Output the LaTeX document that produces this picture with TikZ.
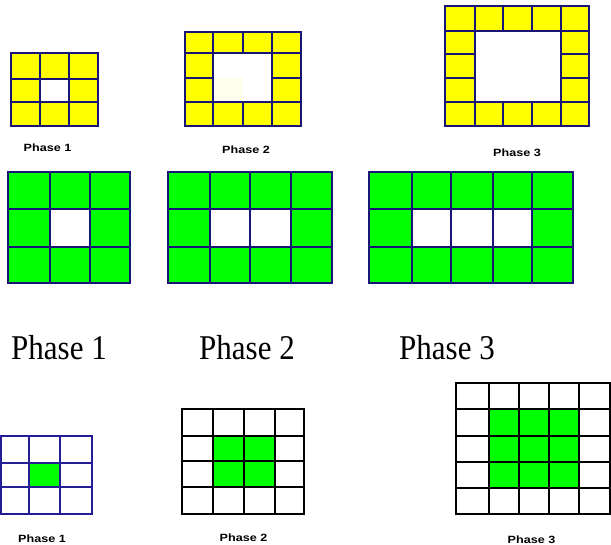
\documentclass[tikz,border=0pt]{standalone}
\usepackage{fontspec}
\setmainfont{Liberation Serif}
\newfontfamily\lblfont{Liberation Sans}
\definecolor{ylw}{RGB}{255,255,0}
\definecolor{grn}{RGB}{0,255,0}
\definecolor{navy}{RGB}{25,20,120}
\definecolor{blu}{RGB}{35,30,150}
\definecolor{pale}{RGB}{255,255,238}
\tikzset{
  topline/.style={draw=navy,line width=1.8pt,line cap=rect},
  midline/.style={draw=navy,line width=2.2pt,line cap=rect},
  botblue/.style={draw=blu,line width=1.5pt,line cap=rect},
  botblack/.style={draw=black,line width=1.5pt,line cap=rect},
  smalllbl/.style={inner sep=0pt,font=\lblfont\bfseries\fontsize{10.5}{10.5}\selectfont,xscale=1.2},
  biglbl/.style={inner sep=0pt,anchor=base west,yscale=1.12,font=\fontsize{31}{31}\selectfont}
}
\begin{document}
\begin{tikzpicture}[x=1pt,y=-1pt]
\useasboundingbox (0,0) rectangle (611,545);
% ---------- top row (yellow rings) ----------
% grid 1
\fill[ylw] (11,53) rectangle (98,126);
\fill[white] (40,79) rectangle (69,102);
\draw[topline] (11,53) rectangle (98,126);
\foreach \x in {40,69} \draw[topline] (\x,53) -- (\x,126);
\foreach \y in {79,102} \draw[topline] (11,\y) -- (98,\y);
% grid 2
\fill[ylw] (185,32) rectangle (301,126);
\fill[white] (213,53) rectangle (272,102);
\fill[pale] (215,78) rectangle (243,102);
\draw[topline] (185,32) rectangle (301,126);
\foreach \x in {213,272} \draw[topline] (\x,32) -- (\x,126);
\draw[topline] (243,32) -- (243,53) (243,102) -- (243,126);
\foreach \y in {53,102} \draw[topline] (185,\y) -- (301,\y);
\draw[topline] (185,78) -- (213,78) (272,78) -- (301,78);
% grid 3
\fill[ylw] (445,6) rectangle (589,126);
\fill[white] (475,31) rectangle (561,102);
\draw[topline] (445,6) rectangle (589,126);
\foreach \x in {475,561} \draw[topline] (\x,6) -- (\x,126);
\foreach \x in {503,532} \draw[topline] (\x,6) -- (\x,31) (\x,102) -- (\x,126);
\foreach \y in {31,102} \draw[topline] (445,\y) -- (589,\y);
\foreach \y in {54,78} \draw[topline] (445,\y) -- (475,\y) (561,\y) -- (589,\y);
\node[smalllbl] (t1) at (47.5,148) {Phase 1};
\node[smalllbl] (t2) at (246,150) {Phase 2};
\node[smalllbl] (t3) at (517,153) {Phase 3};
% ---------- middle row (green) ----------
\fill[grn] (8,172) rectangle (130,283);
\fill[white] (50,209) rectangle (90,247);
\draw[midline] (8,172) rectangle (130,283);
\foreach \x in {50,90} \draw[midline] (\x,172) -- (\x,283);
\foreach \y in {209,247} \draw[midline] (8,\y) -- (130,\y);
\fill[grn] (168,172) rectangle (332,283);
\fill[white] (210,209) rectangle (291,247);
\draw[midline] (168,172) rectangle (332,283);
\foreach \x in {210,250,291} \draw[midline] (\x,172) -- (\x,283);
\foreach \y in {209,247} \draw[midline] (168,\y) -- (332,\y);
\fill[grn] (369,172) rectangle (573,283);
\fill[white] (412,209) rectangle (532,247);
\draw[midline] (369,172) rectangle (573,283);
\foreach \x in {412,451,493,532} \draw[midline] (\x,172) -- (\x,283);
\foreach \y in {209,247} \draw[midline] (369,\y) -- (573,\y);
\node[biglbl] (m1) at (11,360) {Phase 1};
\node[biglbl] (m2) at (199,360) {Phase 2};
\node[biglbl] (m3) at (399,360) {Phase 3};
% ---------- bottom row (white grids with green centre) ----------
\fill[grn] (29,463) rectangle (60,487);
\draw[botblue] (1,436) rectangle (92,514);
\foreach \x in {29,60} \draw[botblue] (\x,436) -- (\x,514);
\foreach \y in {463,487} \draw[botblue] (1,\y) -- (92,\y);
\fill[grn] (213,436) rectangle (275,487);
\draw[botblack] (182,409) rectangle (304,514);
\foreach \x in {213,244,275} \draw[botblack] (\x,409) -- (\x,514);
\foreach \y in {436,461,487} \draw[botblack] (182,\y) -- (304,\y);
\fill[grn] (489,409) rectangle (579,488);
\draw[botblack] (456,383) rectangle (610,514);
\foreach \x in {489,519,549,579} \draw[botblack] (\x,383) -- (\x,514);
\foreach \y in {409,436,462,488} \draw[botblack] (456,\y) -- (610,\y);
\node[smalllbl] (b1) at (42,539) {Phase 1};
\node[smalllbl] (b2) at (243.5,537.5) {Phase 2};
\node[smalllbl] (b3) at (531.5,539.5) {Phase 3};
\end{tikzpicture}
\end{document}
